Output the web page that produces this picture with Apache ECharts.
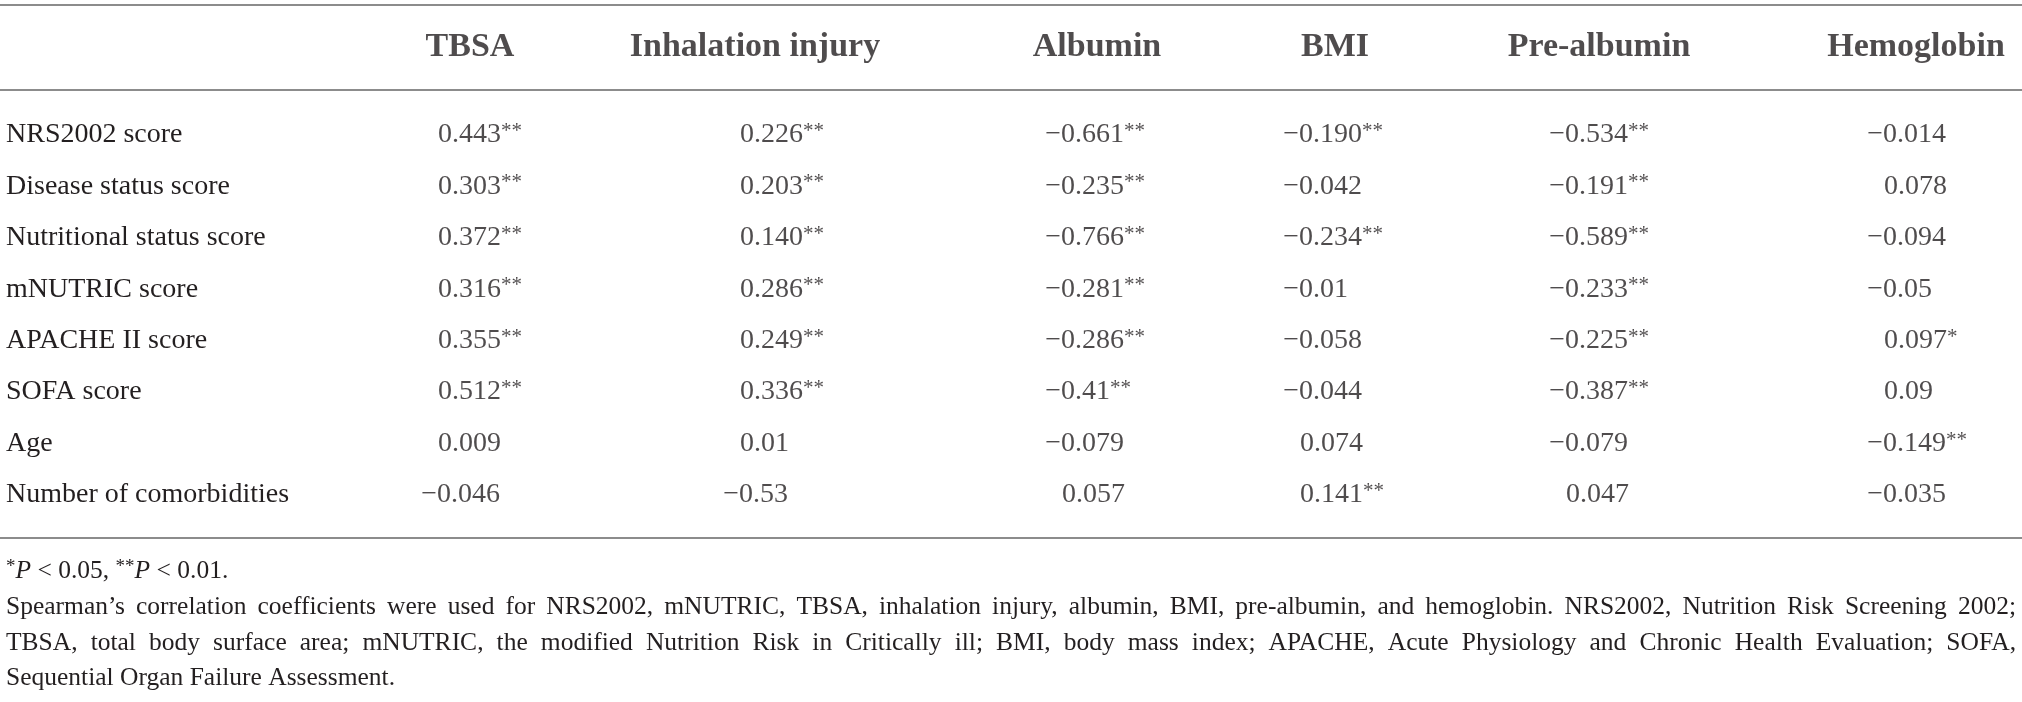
<!DOCTYPE html>
<html>
<head>
<meta charset="utf-8">
<script src="https://cdn.jsdelivr.net/npm/echarts@6/dist/echarts.min.js"></script>
<style>
html, body { margin: 0; padding: 0; background: #fff; }
#chart { width: 2022px; height: 702px; }
</style>
</head>
<body>
<div id="chart"></div>
<script>
// table content
let rows = ['NRS2002 score', 'Disease status score', 'Nutritional status score', 'mNUTRIC score',
    'APACHE II score', 'SOFA score', 'Age', 'Number of comorbidities'];
let columns = ['TBSA', 'Inhalation injury', 'Albumin', 'BMI', 'Pre-albumin', 'Hemoglobin'];
let tbsa = ['0.443**', '0.303**', '0.372**', '0.316**', '0.355**', '0.512**', '0.009', '−0.046'];
let inhalation = ['0.226**', '0.203**', '0.140**', '0.286**', '0.249**', '0.336**', '0.01', '−0.53'];
let albumin = ['−0.661**', '−0.235**', '−0.766**', '−0.281**', '−0.286**', '−0.41**', '−0.079', '0.057'];
let bmi = ['−0.190**', '−0.042', '−0.234**', '−0.01', '−0.058', '−0.044', '0.074', '0.141**'];
let preAlbumin = ['−0.534**', '−0.191**', '−0.589**', '−0.233**', '−0.225**', '−0.387**', '−0.079', '0.047'];
let hemoglobin = ['−0.014', '0.078', '−0.094', '−0.05', '0.097*', '0.09', '−0.149**', '−0.035'];
let notes = [
    'Spearman’s correlation coefficients were used for NRS2002, mNUTRIC, TBSA, inhalation injury, albumin, BMI, pre-albumin, and hemoglobin. NRS2002, Nutrition Risk Screening 2002;',
    'TBSA, total body surface area; mNUTRIC, the modified Nutrition Risk in Critically ill; BMI, body mass index; APACHE, Acute Physiology and Chronic Health Evaluation; SOFA,',
    'Sequential Organ Failure Assessment.'
];

// layout
let W = 2022;
let serif = "'Liberation Serif', 'DejaVu Serif', serif";
let ink = '#231f20';
let ruleColor = '#8c8c8c';
let bodySize = 28;
let headSize = 34;
let noteSize = 25.5;
let headerX = [470, 755, 1097, 1335, 1599, 1916];
let valueX = [438, 740, 1062, 1300, 1566, 1884];
let noteY = [571, 607, 643, 678];
let noteLeft = 6;
let noteRight = 2016;

let measureCtx = document.createElement('canvas').getContext('2d');
function textWidth(text, size, family) {
    measureCtx.font = size + 'px ' + family;
    return measureCtx.measureText(text).width;
}
let minusW = textWidth('−', bodySize, serif) + 1;

function valueLabel(params) {
    let m = /^(−?[\d.]+)(\**)$/.exec(params.data.text);
    return m[1] + (m[2] ? '{sup|' + m[2] + '}' : '');
}

function columnSeries(values, c) {
    return {
        type: 'scatter',
        xAxisIndex: 2,
        yAxisIndex: 1,
        symbolSize: 0,
        silent: true,
        data: values.map(function (v, i) {
            let item = { value: [valueX[c], i], text: v };
            if (v.charAt(0) === '−') {
                item.label = { offset: [-minusW, 0] };
            }
            return item;
        }),
        label: {
            show: true,
            position: 'inside',
            align: 'left',
            verticalAlign: 'middle',
            formatter: valueLabel,
            fontFamily: serif,
            fontSize: bodySize,
            color: ink,
            rich: {
                sup: { fontFamily: serif, fontSize: 21, color: ink, verticalAlign: 'top' }
            }
        }
    };
}

// justified footnote lines built word by word
function justifiedLine(text, y, justify) {
    let words = text.split(' ');
    let widths = words.map(function (w) { return textWidth(w, noteSize, serif); });
    let total = widths.reduce(function (a, b) { return a + b; }, 0);
    let space = textWidth(' ', noteSize, serif);
    let gap = justify ? (noteRight - noteLeft - total) / (words.length - 1) : space;
    let x = noteLeft;
    return words.map(function (w, i) {
        let el = {
            type: 'text',
            x: x,
            y: y,
            silent: true,
            style: {
                text: w,
                fontFamily: serif,
                fontSize: noteSize,
                fill: ink,
                verticalAlign: 'middle'
            }
        };
        x += widths[i] + gap;
        return el;
    });
}

let graphics = [{
    type: 'text',
    x: noteLeft,
    y: noteY[0],
    silent: true,
    style: {
        text: '{sup|*}{it|P} < 0.05, {sup|**}{it|P} < 0.01.',
        fontFamily: serif,
        fontSize: noteSize,
        fill: ink,
        verticalAlign: 'middle',
        rich: {
            sup: { fontFamily: serif, fontSize: 19, fill: ink, verticalAlign: 'top' },
            it: { fontFamily: serif, fontSize: noteSize, fill: ink, fontStyle: 'italic' }
        }
    }
}];
graphics = graphics.concat(justifiedLine(notes[0], noteY[1], true));
graphics = graphics.concat(justifiedLine(notes[1], noteY[2], true));
graphics = graphics.concat(justifiedLine(notes[2], noteY[3], false));

let hiddenValueAxis = {
    type: 'value',
    min: 0,
    max: W,
    axisLabel: { show: false },
    axisTick: { show: false },
    splitLine: { show: false }
};
function ruleAxis(gridIndex, position, show, offset) {
    return Object.assign({}, hiddenValueAxis, {
        gridIndex: gridIndex,
        position: position,
        offset: offset || 0,
        axisLine: { show: show, onZero: false, lineStyle: { color: ruleColor, width: 2 } }
    });
}

let myChart = echarts.init(document.getElementById('chart'), null, { renderer: 'canvas' });
let option = {
    backgroundColor: '#fff',
    animation: false,
    grid: [
        { left: 0, right: 0, top: 5, height: 85, outerBoundsMode: 'none' },
        { left: 0, right: 0, top: 109.3, height: 411.4, outerBoundsMode: 'none' }
    ],
    xAxis: [
        ruleAxis(0, 'top', true),
        ruleAxis(0, 'bottom', true),
        ruleAxis(1, 'bottom', true, 17.3)
    ],
    yAxis: [
        {
            type: 'category',
            gridIndex: 0,
            data: ['header'],
            show: false
        },
        {
            type: 'category',
            gridIndex: 1,
            data: rows,
            inverse: true,
            axisLine: { show: false },
            axisTick: { show: false },
            axisLabel: {
                align: 'left',
                margin: -6,
                fontFamily: serif,
                fontSize: bodySize,
                color: ink
            }
        }
    ],
    series: [
        {
            type: 'scatter',
            xAxisIndex: 0,
            yAxisIndex: 0,
            symbolSize: 0,
            silent: true,
            data: columns.map(function (name, c) {
                return { value: [headerX[c], 0], text: name };
            }),
            label: {
                show: true,
                position: 'inside',
                align: 'center',
                verticalAlign: 'middle',
                formatter: function (p) { return p.data.text; },
                fontFamily: serif,
                fontWeight: 'bold',
                fontSize: headSize,
                color: ink
            }
        },
        columnSeries(tbsa, 0),
        columnSeries(inhalation, 1),
        columnSeries(albumin, 2),
        columnSeries(bmi, 3),
        columnSeries(preAlbumin, 4),
        columnSeries(hemoglobin, 5)
    ],
    graphic: graphics
};
myChart.setOption(option);
</script>
</body>
</html>
